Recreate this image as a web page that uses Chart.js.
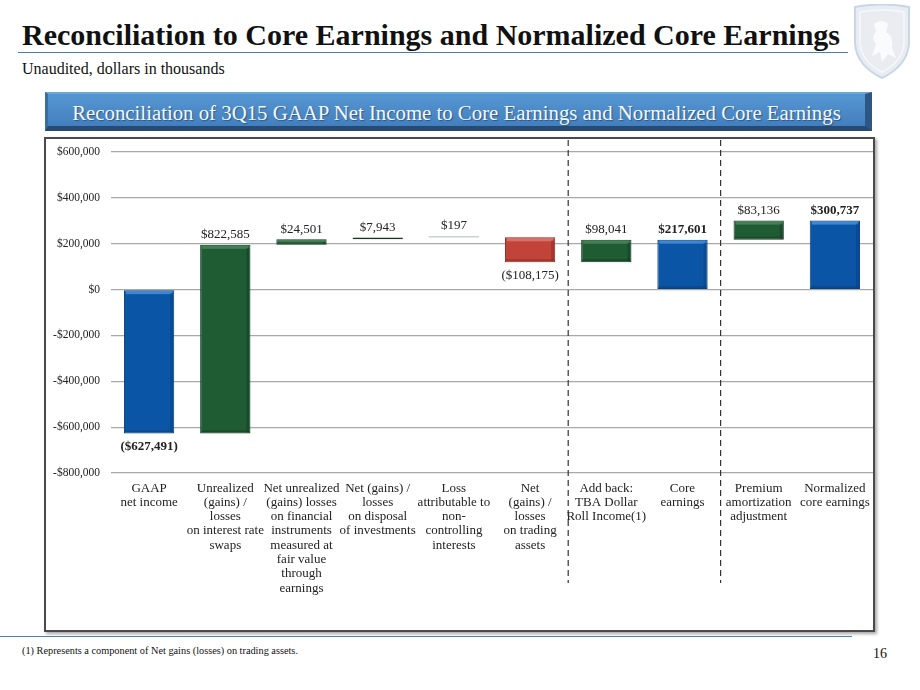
<!DOCTYPE html>
<html>
<head>
<meta charset="utf-8">
<script src="https://cdn.jsdelivr.net/npm/chart.js@4"></script>
<style>
  html, body { margin: 0; padding: 0; background: #fff; }
  body { width: 920px; height: 690px; position: relative; overflow: hidden;
         font-family: "Liberation Serif", "Times New Roman", serif; color: #111; }
  #title { position: absolute; left: 22px; top: 18px; font-size: 30px; font-weight: bold; white-space: nowrap; }
  #titleRule { position: absolute; left: 18px; top: 52px; width: 830px; height: 0; border-top: 1.5px solid #4A7EBB; }
  #subtitle { position: absolute; left: 22px; top: 60px; font-size: 16px; }
  #logo { position: absolute; left: 852px; top: 4px; }
  #banner { position: absolute; left: 45px; top: 92px; width: 817px; height: 32px;
            background: linear-gradient(#5697D2, #437FBE);
            border-left: 3px solid #3A6EA0; border-right: 7px solid #2C5784;
            border-bottom: 5px solid #264B72; border-top: 2px solid #6AA6DB;
            color: #F4F8FC; font-size: 20.8px; text-align: center; line-height: 38px;
            text-shadow: 1px 1px 1px rgba(0,0,0,0.35); white-space: nowrap; }
  #chartBox { position: absolute; left: 44px; top: 137px; width: 827px; height: 491px;
              border: 2px solid #4a4a4a; box-shadow: 2px 2px 3px rgba(0,0,0,0.35); background: #fff; }
  #chartBox canvas { display: block; }
  #footRule { position: absolute; left: 0; top: 636px; width: 852px; height: 0; border-top: 1px solid #4F81BD; }
  #footnote { position: absolute; left: 22px; top: 645px; font-size: 10.3px; }
  #pageNo { position: absolute; left: 873px; top: 646px; font-size: 14px; }
</style>
</head>
<body>
<div id="title">Reconciliation to Core Earnings and Normalized Core Earnings</div>
<div id="titleRule"></div>
<div id="subtitle">Unaudited, dollars in thousands</div>
<svg id="logo" width="60" height="76" viewBox="0 0 60 76">
  <path d="M3 3 Q30 -2 57 3 L57 40 Q55 62 30 74 Q5 62 3 40 Z" fill="#E9EDF2" stroke="#C9D6E8" stroke-width="2"/>
  <path d="M8 8 Q30 4 52 8 L52 40 Q50 58 30 68 Q10 58 8 40 Z" fill="none" stroke="#F6F8FB" stroke-width="1.5"/>
  <path d="M22 20 Q30 14 36 20 L34 28 Q42 32 40 44 L44 54 L36 50 L30 58 L28 48 L20 52 L24 40 Q18 34 24 28 Z" fill="#FAFBFD"/>
</svg>
<div id="banner">Reconciliation of 3Q15 GAAP Net Income to Core Earnings and Normalized Core Earnings</div>
<div id="chartBox"><canvas id="chart" width="827" height="491"></canvas></div>
<div id="footRule"></div>
<div id="footnote">(1) Represents a component of Net gains (losses) on trading assets.</div>
<div id="pageNo">16</div>

<script>
// Reconciliation steps, dollars in thousands
const categories = [
  ['GAAP', 'net income'],
  ['Unrealized', '(gains) /', 'losses', 'on interest rate', 'swaps'],
  ['Net unrealized', '(gains) losses', 'on financial', 'instruments', 'measured at', 'fair value', 'through', 'earnings'],
  ['Net (gains) /', 'losses', 'on disposal', 'of investments'],
  ['Loss', 'attributable to', 'non-', 'controlling', 'interests'],
  ['Net', '(gains) /', 'losses', 'on trading', 'assets'],
  ['Add back:', 'TBA Dollar', 'Roll Income(1)'],
  ['Core', 'earnings'],
  ['Premium', 'amortization', 'adjustment'],
  ['Normalized', 'core earnings']
];
const amounts = [-627491, 822585, 24501, 7943, 197, -108175, 98041, 217601, 83136, 300737];
const barStart = [0, -627491, 195094, 219595, 227538, 227735, 119560, 0, 217601, 0];
const barEnd = [-627491, 195094, 219595, 227538, 227735, 119560, 217601, 217601, 300737, 300737];
const isTotal = [true, false, false, false, false, false, false, true, false, true];
const barKind = ['total', 'up', 'up', 'up', 'tiny', 'down', 'up', 'total', 'up', 'total'];
const yTicks = [-800000, -600000, -400000, -200000, 0, 200000, 400000, 600000];
const dividerAfter = [5, 7];

const palette = {
  total: { fill: '#0A55A6', edge: '#07407E', light: '#4C92DE' },
  up: { fill: '#1F5C34', edge: '#103A1F', light: '#4E8A60' },
  down: { fill: '#C1433A', edge: '#8A2A22', light: '#DE7A70' },
  tiny: { fill: '#C9D2DC', edge: '#C9D2DC', light: '#C9D2DC' }
};

const fmtMoney = (v) => {
  const s = '$' + Math.abs(v).toLocaleString('en-US');
  return v < 0 ? '(' + s + ')' : s;
};
const fmtTick = (v) => (v < 0 ? '-' : '') + '$' + Math.abs(v).toLocaleString('en-US');

// bevel highlights + value labels + dashed dividers
const waterfallDecor = {
  id: 'waterfallDecor',
  afterDatasetsDraw(chart) {
    const ctx = chart.ctx;
    const meta = chart.getDatasetMeta(0);
    meta.data.forEach((bar, i) => {
      const top = Math.min(bar.y, bar.base);
      const bottom = Math.max(bar.y, bar.base);
      const half = bar.width / 2;
      const c = palette[barKind[i]];
      if (barKind[i] !== 'tiny' && bottom - top > 4) {
        ctx.save();
        ctx.fillStyle = c.light;
        ctx.globalAlpha = 0.8;
        ctx.fillRect(bar.x - half + 2, top + 1, bar.width - 4, 3);
        ctx.globalAlpha = 0.5;
        ctx.fillStyle = c.edge;
        ctx.fillRect(bar.x + half - 4, top + 3, 3, bottom - top - 4);
        ctx.fillRect(bar.x - half + 1, bottom - 3, bar.width - 2, 2);
        ctx.restore();
      }
      ctx.save();
      ctx.font = (isTotal[i] ? 'bold ' : '') + '13px "Liberation Serif", serif';
      ctx.fillStyle = '#222';
      ctx.textAlign = 'center';
      ctx.textBaseline = 'middle';
      const ly = amounts[i] < 0 ? bottom + 13 : top - 10;
      ctx.fillText(fmtMoney(amounts[i]), bar.x, ly);
      ctx.restore();
    });

    const xs = chart.scales.x;
    const area = chart.chartArea;
    ctx.save();
    ctx.strokeStyle = '#333';
    ctx.lineWidth = 1.2;
    ctx.setLineDash([6, 4]);
    dividerAfter.forEach((idx) => {
      const x = (xs.getPixelForValue(idx) + xs.getPixelForValue(idx + 1)) / 2;
      ctx.beginPath();
      ctx.moveTo(x, 1);
      ctx.lineTo(x, area.bottom + 110);
      ctx.stroke();
    });
    ctx.restore();
  }
};

new Chart(document.getElementById('chart'), {
  type: 'bar',
  data: {
    labels: categories,
    datasets: [{
      data: barStart.map((s, i) => [s, barEnd[i]]),
      backgroundColor: barKind.map((k) => palette[k].fill),
      borderColor: barKind.map((k) => palette[k].edge),
      borderWidth: barKind.map((k) => (k === 'tiny' ? 0 : 1)),
      borderSkipped: false,
      minBarLength: 1.5,
      barPercentage: 0.66,
      categoryPercentage: 1
    }]
  },
  options: {
    responsive: false,
    animation: false,
    layout: { padding: { top: 13, right: 0, bottom: 0, left: 0 } },
    plugins: { legend: { display: false }, tooltip: { enabled: false } },
    scales: {
      x: {
        grid: { display: false },
        border: { display: false },
        ticks: {
          maxRotation: 0,
          autoSkip: false,
          padding: 0,
          color: '#222',
          font: { family: '"Liberation Serif", serif', size: 13, lineHeight: 1.1 }
        },
        afterFit: (scale) => { scale.height = 157; }
      },
      y: {
        min: -800000,
        max: 600000,
        grid: { color: '#A8A8A8', lineWidth: 1.2, drawTicks: false },
        border: { display: false },
        afterBuildTicks: (scale) => { scale.ticks = yTicks.map((v) => ({ value: v })); },
        ticks: {
          padding: 11,
          color: '#222',
          font: { family: '"Liberation Serif", serif', size: 11.5 },
          callback: (v) => fmtTick(v)
        },
        afterFit: (scale) => {
          scale.width = 65;
          scale.paddingTop = 0;
          scale.paddingBottom = 0;
        }
      }
    }
  },
  plugins: [waterfallDecor]
});
</script>
</body>
</html>
